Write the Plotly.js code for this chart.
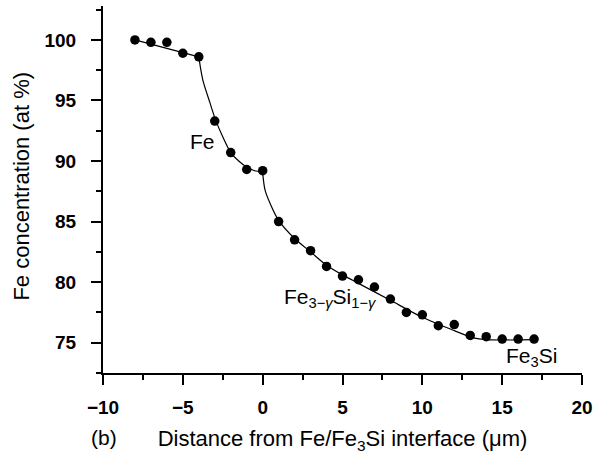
<!DOCTYPE html>
<html>
<head>
<meta charset="utf-8">
<script src="https://cdn.plot.ly/plotly-3.0.1.min.js"></script>
<style>html,body{margin:0;padding:0;background:#fff;}#chart{width:595px;height:454px;}</style>
</head>
<body>
<div id="chart"></div>
<script>
// Measured points
const distance = [-8, -7, -6, -5, -4, -3, -2, -1, 0, 1, 2, 3, 4, 5, 6, 7, 8, 9, 10, 11, 12, 13, 14, 15, 16, 17];
const feConc = [100.0, 99.8, 99.8, 98.9, 98.6, 93.3, 90.7, 89.3, 89.2, 85.0, 83.5, 82.6, 81.3, 80.5, 80.2, 79.6, 78.6, 77.5, 77.3, 76.4, 76.5, 75.6, 75.5, 75.3, 75.3, 75.3];

// Fitted curve in three pieces
const fitA_x = [-8, -4];
const fitA_y = [100.0, 98.6];
const fitB_x = [-4.0, -3.75, -3.3, -2.95, -2.5, -2.0, -1.5, -1.0, -0.5, 0.0];
const fitB_y = [98.6, 96.7, 94.8, 93.4, 92.0, 90.7, 90.0, 89.5, 89.2, 89.1];
const fitC_x = [0.0, 0.15, 0.5, 1.0, 2.0, 3.0, 4.0, 5.0, 6.0, 8.0, 10.0, 12.0, 13.2, 14.0, 17.0];
const fitC_y = [89.0, 87.6, 86.4, 85.1, 83.6, 82.5, 81.4, 80.6, 79.9, 78.5, 77.1, 76.0, 75.4, 75.25, 75.25];

// Axis ticks
const xTicks = [-10, -5, 0, 5, 10, 15, 20];
const xTickText = ['\u221210', '\u22125', '0', '5', '10', '15', '20'];
const yTicks = [75, 80, 85, 90, 95, 100];
const yTickText = ['75', '80', '85', '90', '95', '100'];

const FONT = 'Liberation Sans, Arial, Helvetica, sans-serif';
const lineStyle = {color: '#000', width: 1.2};
const GAP = '\u2002\u200a';

const traces = [
  {x: fitA_x, y: fitA_y, mode: 'lines', line: lineStyle, hoverinfo: 'skip', showlegend: false},
  {x: fitB_x, y: fitB_y, mode: 'lines', line: Object.assign({shape: 'spline', smoothing: 0.8}, lineStyle), hoverinfo: 'skip', showlegend: false},
  {x: fitC_x, y: fitC_y, mode: 'lines', line: Object.assign({shape: 'spline', smoothing: 0.8}, lineStyle), hoverinfo: 'skip', showlegend: false},
  {x: distance, y: feConc, mode: 'markers', marker: {color: '#000', size: 9.5}, showlegend: false}
];

const axisCommon = {
  showline: true, linecolor: '#000', linewidth: 2,
  ticks: 'outside', ticklen: 10, tickwidth: 2, tickcolor: '#000',
  showgrid: false, zeroline: false,
  tickfont: {family: FONT, size: 19, color: '#000', weight: 'bold'},
  fixedrange: true
};

const layout = {
  width: 595, height: 454,
  margin: {l: 103, r: 13, t: 6, b: 81},
  paper_bgcolor: '#fff', plot_bgcolor: '#fff',
  font: {family: FONT, color: '#000'},
  xaxis: Object.assign({}, axisCommon, {
    range: [-10, 20], tickvals: xTicks, ticktext: xTickText,
    ticklabelstandoff: 6,
    minor: {dtick: 2.5, ticks: 'outside', ticklen: 5, tickwidth: 2, tickcolor: '#000', showgrid: false},
    title: {text: 'Distance from Fe/Fe<sub>3</sub>Si interface (\u03bcm)', font: {family: FONT, size: 22, color: '#000'}, standoff: 14}
  }),
  yaxis: Object.assign({}, axisCommon, {
    range: [72.5, 102.8], tickvals: yTicks, ticktext: yTickText.map(t => t + GAP),
    minor: {dtick: 2.5, ticks: 'outside', ticklen: 5, tickwidth: 2, tickcolor: '#000', showgrid: false}
  }),
  annotations: [
    {x: -0.169, y: 0.508, xref: 'paper', yref: 'paper', xanchor: 'center', yanchor: 'middle', textangle: -90, text: 'Fe concentration (at %)', showarrow: false, font: {family: FONT, size: 22, color: '#000'}},
    {x: -3.75, y: 91.6, xref: 'x', yref: 'y', text: 'Fe', showarrow: false, font: {family: FONT, size: 21, color: '#000'}},
    {x: 1.2, y: 78.7, xref: 'x', yref: 'y', xanchor: 'left', text: 'Fe<sub>3\u2212<i>\u03b3</i></sub>Si<sub>1\u2212<i>\u03b3</i></sub>', showarrow: false, font: {family: FONT, size: 21, color: '#000'}},
    {x: 15.1, y: 73.8, xref: 'x', yref: 'y', xanchor: 'left', text: 'Fe<sub>3</sub>Si', showarrow: false, font: {family: FONT, size: 21, color: '#000'}},
    {x: -0.03, y: -0.175, xref: 'paper', yref: 'paper', yanchor: 'middle', text: '(b)', showarrow: false, font: {family: FONT, size: 21, color: '#000'}}
  ]
};

Plotly.newPlot('chart', traces, layout, {displayModeBar: false, staticPlot: true});
</script>
</body>
</html>
